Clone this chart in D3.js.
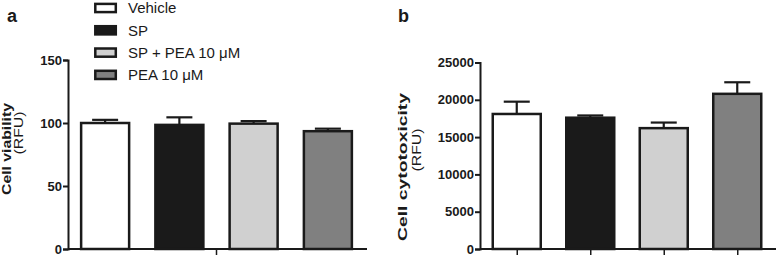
<!DOCTYPE html>
<html>
<head>
<meta charset="utf-8">
<script src="https://cdn.jsdelivr.net/npm/d3@7"></script>
<style>
  body { margin: 0; background: #fff; }
  text { font-family: "Liberation Sans", Arial, sans-serif; fill: #1a1a1a; }
</style>
</head>
<body>
<div id="chart"></div>
<script>
// data
var groups = ["Vehicle", "SP", "SP + PEA 10 \u03bcM", "PEA 10 \u03bcM"];
var fills = ["#ffffff", "#1a1a1a", "#d0d0d0", "#808080"];

var viability = [100, 98.5, 99.5, 93.5];
var viabilityErr = [2.5, 6, 2, 2];
var viabilityTicks = [0, 50, 100, 150];

var cytotox = [18100, 17600, 16200, 20800];
var cytotoxErr = [1650, 300, 750, 1550];
var cytotoxTicks = [0, 5000, 10000, 15000, 20000, 25000];

var svg = d3.select("#chart")
  .append("svg")
    .attr("width", 778)
    .attr("height", 257);

function panel(opts) {
  var g = svg.append("g");

  var x = d3.scalePoint()
    .domain(groups)
    .range([opts.left, opts.right])
    .padding(0.5);

  var y = d3.scaleLinear()
    .domain([0, opts.max])
    .range([249, opts.top]);

  // bars
  g.selectAll("rect.bar")
    .data(opts.values)
    .enter()
    .append("rect")
      .attr("class", "bar")
      .attr("x", function(d, i) { return x(groups[i]) - 24; })
      .attr("y", function(d) { return y(d); })
      .attr("width", 48)
      .attr("height", function(d) { return y(0) - y(d); })
      .attr("fill", function(d, i) { return fills[i]; })
      .attr("stroke", "#1a1a1a")
      .attr("stroke-width", 2.5);

  // error bars (upper only)
  var eb = g.selectAll("g.err")
    .data(opts.values)
    .enter()
    .append("g")
      .attr("class", "err")
      .attr("stroke", "#1a1a1a")
      .attr("stroke-width", 2.2);
  eb.append("line")
    .attr("x1", function(d, i) { return x(groups[i]); })
    .attr("x2", function(d, i) { return x(groups[i]); })
    .attr("y1", function(d) { return y(d); })
    .attr("y2", function(d, i) { return y(d + opts.err[i]); });
  eb.append("line")
    .attr("x1", function(d, i) { return x(groups[i]) - 13; })
    .attr("x2", function(d, i) { return x(groups[i]) + 13; })
    .attr("y1", function(d, i) { return y(d + opts.err[i]); })
    .attr("y2", function(d, i) { return y(d + opts.err[i]); });

  // y axis
  var ya = g.append("g")
    .attr("transform", "translate(" + opts.left + ",0)")
    .call(d3.axisLeft(y).tickValues(opts.ticks).tickSize(5).tickPadding(1).tickFormat(d3.format("d")));
  ya.select(".domain").attr("stroke", "#1a1a1a").attr("stroke-width", 2);
  ya.selectAll(".tick line").attr("stroke", "#1a1a1a").attr("stroke-width", 2);
  ya.selectAll(".tick text")
    .style("font-size", "13px")
    .style("font-weight", "bold")
    .attr("fill", "#1a1a1a");

  // x axis
  var xa = g.append("g")
    .attr("transform", "translate(0,249)")
    .call(d3.axisBottom(x).tickSizeOuter(0).tickSizeInner(6).tickFormat(""));
  xa.select(".domain")
    .attr("d", "M" + opts.left + ",0H" + (opts.right + 2))
    .attr("stroke", "#1a1a1a").attr("stroke-width", 2);
  xa.selectAll(".tick line").attr("stroke", "#1a1a1a").attr("stroke-width", 1.5);
  if (opts.singleTick) {
    xa.selectAll(".tick").remove();
    xa.append("line")
      .attr("x1", (opts.left + opts.right) / 2)
      .attr("x2", (opts.left + opts.right) / 2)
      .attr("y1", 0).attr("y2", 6)
      .attr("stroke", "#1a1a1a").attr("stroke-width", 1.5);
  }

  // y title (stretched along its length like the original)
  g.append("text")
    .attr("transform", "translate(" + opts.titleX + "," + opts.titleY + ") rotate(-90)")
    .attr("text-anchor", "middle")
    .attr("textLength", opts.titleLen)
    .attr("lengthAdjust", "spacingAndGlyphs")
    .style("font-size", "12px")
    .style("font-weight", "bold")
    .text(opts.title);
  g.append("text")
    .attr("transform", "translate(" + opts.unitX + "," + opts.unitY + ") rotate(-90)")
    .attr("text-anchor", "middle")
    .attr("textLength", 43)
    .attr("lengthAdjust", "spacingAndGlyphs")
    .style("font-size", "12px")
    .text("(RFU)");

  // panel letter
  g.append("text")
    .attr("x", opts.letterX)
    .attr("y", 22)
    .style("font-size", "18px")
    .style("font-weight", "bold")
    .text(opts.letter);
}

panel({ left: 68, right: 365, top: 60, max: 150, values: viability, err: viabilityErr,
        ticks: viabilityTicks, title: "Cell viability", titleX: 11, titleY: 149, titleLen: 92,
        unitX: 23, unitY: 133, letter: "a", letterX: 7, singleTick: true });

panel({ left: 480, right: 774, top: 62.5, max: 25000, values: cytotox, err: cytotoxErr,
        ticks: cytotoxTicks, title: "Cell cytotoxicity", titleX: 407, titleY: 167, titleLen: 148,
        unitX: 421, unitY: 150, letter: "b", letterX: 398, singleTick: false });

// legend
var legend = svg.append("g")
  .selectAll("g")
  .data(groups)
  .enter()
  .append("g")
    .attr("transform", function(d, i) { return "translate(95.3," + (3.9 + i * 22.3) + ")"; });
legend.append("rect")
  .attr("width", 20.5)
  .attr("height", 8.2)
  .attr("fill", function(d, i) { return fills[i]; })
  .attr("stroke", "#1a1a1a")
  .attr("stroke-width", 2.5);
legend.append("text")
  .attr("x", 32.7)
  .attr("y", 9.3)
  .style("font-size", "15px")
  .text(function(d) { return d; });
</script>
</body>
</html>
